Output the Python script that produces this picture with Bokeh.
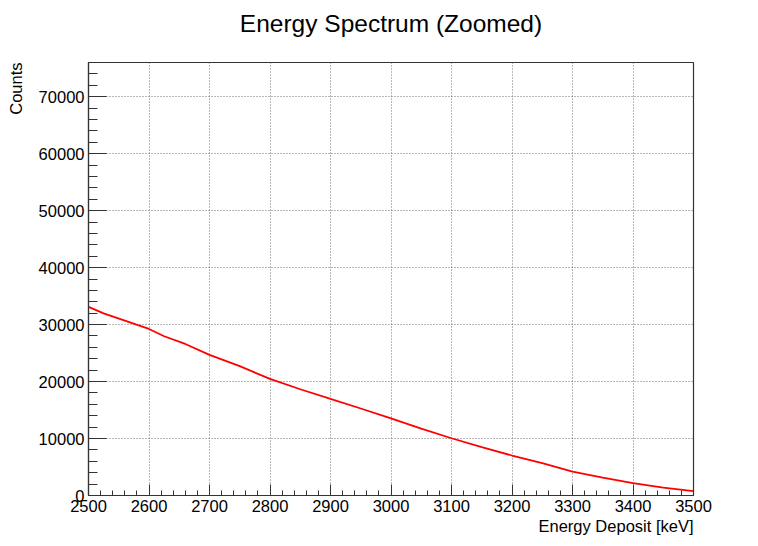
from bokeh.embed import file_html
from bokeh.models import PrintfTickFormatter, SingleIntervalTicker, Title
from bokeh.plotting import figure
from bokeh.resources import INLINE

# Energy deposit spectrum, zoomed to 2500-3500 keV
energy_kev = [2500, 2525, 2600, 2625, 2660, 2700, 2750, 2800, 2850, 2900, 2950,
              3000, 3050, 3100, 3150, 3200, 3250, 3300, 3350, 3400, 3450, 3500]
counts = [33100, 31980, 29230, 27950, 26600, 24680, 22700, 20470, 18650, 16960, 15270,
          13550, 11730, 10050, 8510, 7020, 5670, 4210, 3140, 2160, 1370, 760]

title_text = "Energy Spectrum (Zoomed)"
x_title = "Energy Deposit [keV]"
y_title = "Counts"

X_MIN, X_MAX = 2500, 3500
Y_MIN, Y_MAX = 0, 76000

FONT = "Liberation Sans"
TICK_FONT_SIZE = "16.5px"
FRAME_COLOR = "#333333"


def gap(px):
    """Blank side-panel entry used to push a title away from the frame."""
    return Title(text=" ", text_font_size="1px", standoff=px)


p = figure(
    width=758, height=546,
    x_range=(X_MIN, X_MAX), y_range=(Y_MIN, Y_MAX),
    output_backend="svg", toolbar_location=None,
    min_border_left=88, min_border_right=65,
    min_border_top=62, min_border_bottom=51,
)
p.background_fill_color = "white"
p.border_fill_color = "white"
p.outline_line_color = FRAME_COLOR
p.outline_line_width = 1.2

# Main title, centred over the frame
p.add_layout(gap(23), "above")
p.title.text = title_text
p.title.align = "center"
p.title.text_font = FONT
p.title.text_font_size = "24.5px"
p.title.text_font_style = "normal"
p.title.text_color = "black"
p.title.standoff = 0

# Histogram trace
p.line(energy_kev, counts, line_color="#ff0000", line_width=1.8)

# Axes: ticks pointing into the frame
p.xaxis.ticker = SingleIntervalTicker(interval=100, num_minor_ticks=5)
p.yaxis.ticker = SingleIntervalTicker(interval=10000, num_minor_ticks=5)
p.yaxis.formatter = PrintfTickFormatter(format="%d")
p.xaxis.formatter = PrintfTickFormatter(format="%d")

for ax in (p.xaxis[0], p.yaxis[0]):
    ax.axis_line_color = FRAME_COLOR
    ax.axis_line_width = 1.2
    ax.major_tick_line_color = FRAME_COLOR
    ax.minor_tick_line_color = FRAME_COLOR
    ax.major_tick_out = 0
    ax.minor_tick_out = 0
    ax.major_label_text_font = FONT
    ax.major_label_text_font_size = TICK_FONT_SIZE
    ax.major_label_text_color = "black"
    ax.major_label_standoff = 4

p.xaxis.major_tick_in = 11
p.xaxis.minor_tick_in = 5
p.yaxis.major_tick_in = 18
p.yaxis.minor_tick_in = 9

# Dotted grid at major ticks
for g in (p.xgrid[0], p.ygrid[0]):
    g.grid_line_color = "#6e6e6e"
    g.grid_line_dash = "1 2"
    g.grid_line_width = 1

# Axis titles placed at the far ends of their axes
p.add_layout(Title(
    text=x_title, align="right", standoff=0,
    text_font=FONT, text_font_size=TICK_FONT_SIZE,
    text_font_style="normal", text_color="black",
), "below")
p.add_layout(gap(8), "left")
p.add_layout(Title(
    text=y_title, align="right", standoff=0,
    text_font=FONT, text_font_size=TICK_FONT_SIZE,
    text_font_style="normal", text_color="black",
), "left")

open("out.html", "w").write(file_html(p, INLINE))
